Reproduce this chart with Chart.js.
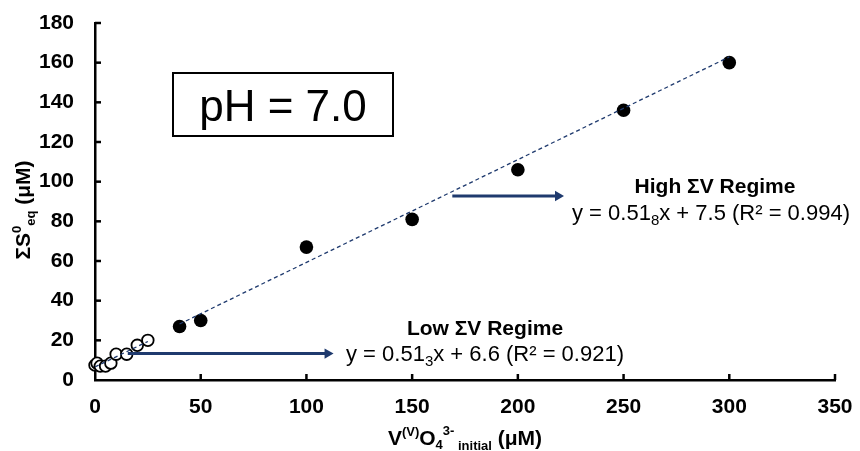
<!DOCTYPE html>
<html>
<head>
<meta charset="utf-8">
<script src="https://cdn.jsdelivr.net/npm/chart.js@4.4.1/dist/chart.umd.min.js"></script>
<style>
html,body{margin:0;padding:0;background:#fff;}
#wrap{width:860px;height:451px;position:relative;}
</style>
</head>
<body>
<div id="wrap"><canvas id="c" width="860" height="451"></canvas></div>
<script>
// ---- data ----
const lowX  = [0, 1, 2.5, 5, 7.5, 10, 15, 20, 25];
const lowY  = [7.5, 8.5, 7, 7, 8.5, 13, 13, 17.5, 20];
const highX = [40, 50, 100, 150, 200, 250, 300];
const highY = [27, 30, 67, 81, 106, 136, 160];
const lowFit  = {slope: 0.513, intercept: 6.6, from: 0, to: 25};
const highFit = {slope: 0.518, intercept: 7.5, from: 40, to: 300};
const lowArrowX = [15.5, 110];  const lowArrowY = 13.3;
const highArrowX = [169, 219];  const highArrowY = 92.8;
const xMin = 0, xMax = 350, xStep = 50;
const yMin = 0, yMax = 180, yStep = 20;

const NAVY = '#1f3a6e';
const FONT = 'Liberation Sans, Arial, sans-serif';
const fitPts = f => [{x: f.from, y: f.slope*f.from + f.intercept}, {x: f.to, y: f.slope*f.to + f.intercept}];

const datasets = [
  {label:'low fit', data: fitPts(lowFit), showLine:true, borderColor:NAVY, borderWidth:1.3, borderDash:[4,3], pointRadius:0},
  {label:'high fit', data: fitPts(highFit), showLine:true, borderColor:NAVY, borderWidth:1.3, borderDash:[4,3], pointRadius:0},
  {label:'low arrow', data: lowArrowX.map(x=>({x, y: lowArrowY})), showLine:true, borderColor:NAVY, borderWidth:3,
    pointRadius:[0,6], pointStyle:'triangle', rotation:90, pointBackgroundColor:NAVY, pointBorderColor:NAVY, pointBorderWidth:0},
  {label:'high arrow', data: highArrowX.map(x=>({x, y: highArrowY})), showLine:true, borderColor:NAVY, borderWidth:3,
    pointRadius:[0,6], pointStyle:'triangle', rotation:90, pointBackgroundColor:NAVY, pointBorderColor:NAVY, pointBorderWidth:0},
  {label:'low', data: lowX.map((x,i)=>({x, y: lowY[i]})), showLine:false, clip:false, pointRadius:5.8, pointBackgroundColor:'#fff', pointBorderColor:'#000', pointBorderWidth:1.8},
  {label:'high', data: highX.map((x,i)=>({x, y: highY[i]})), showLine:false, clip:false, pointRadius:6.8, pointBackgroundColor:'#000', pointBorderColor:'#000', pointBorderWidth:0}
];

function runs(ctx, parts, x, y, align){
  let w = 0;
  parts.forEach(p => { ctx.font = p[1]; w += ctx.measureText(p[0]).width; });
  let cx = align === 'center' ? x - w/2 : x;
  parts.forEach(p => { ctx.font = p[1]; ctx.fillText(p[0], cx, y + (p[2]||0)); cx += ctx.measureText(p[0]).width; });
}

const decor = {
  id:'decor',
  afterDraw(chart){
    const {ctx, scales:{x, y}} = chart;
    ctx.save();
    // inside ticks
    ctx.strokeStyle = '#000'; ctx.lineWidth = 2.5;
    for (let v = xMin + xStep; v <= xMax; v += xStep){
      const px = x.getPixelForValue(v);
      ctx.beginPath(); ctx.moveTo(px, y.bottom); ctx.lineTo(px, y.bottom - 6); ctx.stroke();
    }
    for (let v = yMin + yStep; v <= yMax; v += yStep){
      const py = y.getPixelForValue(v);
      ctx.beginPath(); ctx.moveTo(x.left, py); ctx.lineTo(x.left + 6, py); ctx.stroke();
    }
    ctx.fillStyle = '#000';
    ctx.textBaseline = 'alphabetic';
    ctx.textAlign = 'left';
    // x title
    runs(ctx, [
      ['V', 'bold 21px '+FONT, 0], ['(V)', 'bold 13px '+FONT, -9], ['O', 'bold 21px '+FONT, 0],
      ['4', 'bold 13px '+FONT, 4], ['3-', 'bold 13px '+FONT, -10], [' initial', 'bold 13px '+FONT, 5], [' (\u03BCM)', 'bold 21px '+FONT, 0]
    ], 465, 445, 'center');
    // y title rotated
    ctx.save();
    ctx.translate(30, 210); ctx.rotate(-Math.PI/2);
    runs(ctx, [
      ['\u03A3S', 'bold 21px '+FONT, 0], ['0', 'bold 13px '+FONT, -9], ['eq', 'bold 13px '+FONT, 5], [' (\u03BCM)', 'bold 21px '+FONT, 0]
    ], 0, 0, 'center');
    ctx.restore();
    // pH box
    ctx.lineWidth = 2; ctx.strokeStyle = '#000';
    ctx.strokeRect(173, 73, 220, 63);
    ctx.textAlign = 'center';
    ctx.font = '44px '+FONT;
    ctx.fillText('pH = 7.0', 283, 121);
    // regime labels
    ctx.font = 'bold 21px '+FONT;
    ctx.fillText('High \u03A3V Regime', 715, 193);
    ctx.fillText('Low \u03A3V Regime', 485, 335);
    ctx.textAlign = 'left';
    runs(ctx, [['y = 0.51','22px '+FONT,0],['8','15px '+FONT,5],['x + 7.5 (R\u00B2 = 0.994)','22px '+FONT,0]], 711, 220, 'center');
    runs(ctx, [['y = 0.51','22px '+FONT,0],['3','15px '+FONT,5],['x + 6.6 (R\u00B2 = 0.921)','22px '+FONT,0]], 485, 361, 'center');
    ctx.restore();
  }
};

new Chart(document.getElementById('c'), {
  type:'scatter',
  data:{datasets},
  options:{
    responsive:false, animation:false,
    layout:{padding:{top:23, right:25, left:0, bottom:0}},
    plugins:{legend:{display:false}, tooltip:{enabled:false}},
    scales:{
      x:{type:'linear', min:xMin, max:xMax,
        ticks:{stepSize:xStep, padding:15, color:'#000', font:{family:FONT, size:21, weight:'bold'}},
        grid:{display:true, drawOnChartArea:false, drawTicks:false},
        border:{display:true, color:'#000', width:2.5},
        afterFit(s){ s.height = 71; s.paddingLeft = 0; s.paddingRight = 0; }
      },
      y:{type:'linear', min:yMin, max:yMax,
        ticks:{stepSize:yStep, padding:21, color:'#000', font:{family:FONT, size:21, weight:'bold'}},
        grid:{display:true, drawOnChartArea:false, drawTicks:false},
        border:{display:true, color:'#000', width:2.5},
        afterFit(s){ s.width = 95; s.paddingTop = 0; s.paddingBottom = 0; }
      }
    }
  },
  plugins:[decor]
});
</script>
</body>
</html>
